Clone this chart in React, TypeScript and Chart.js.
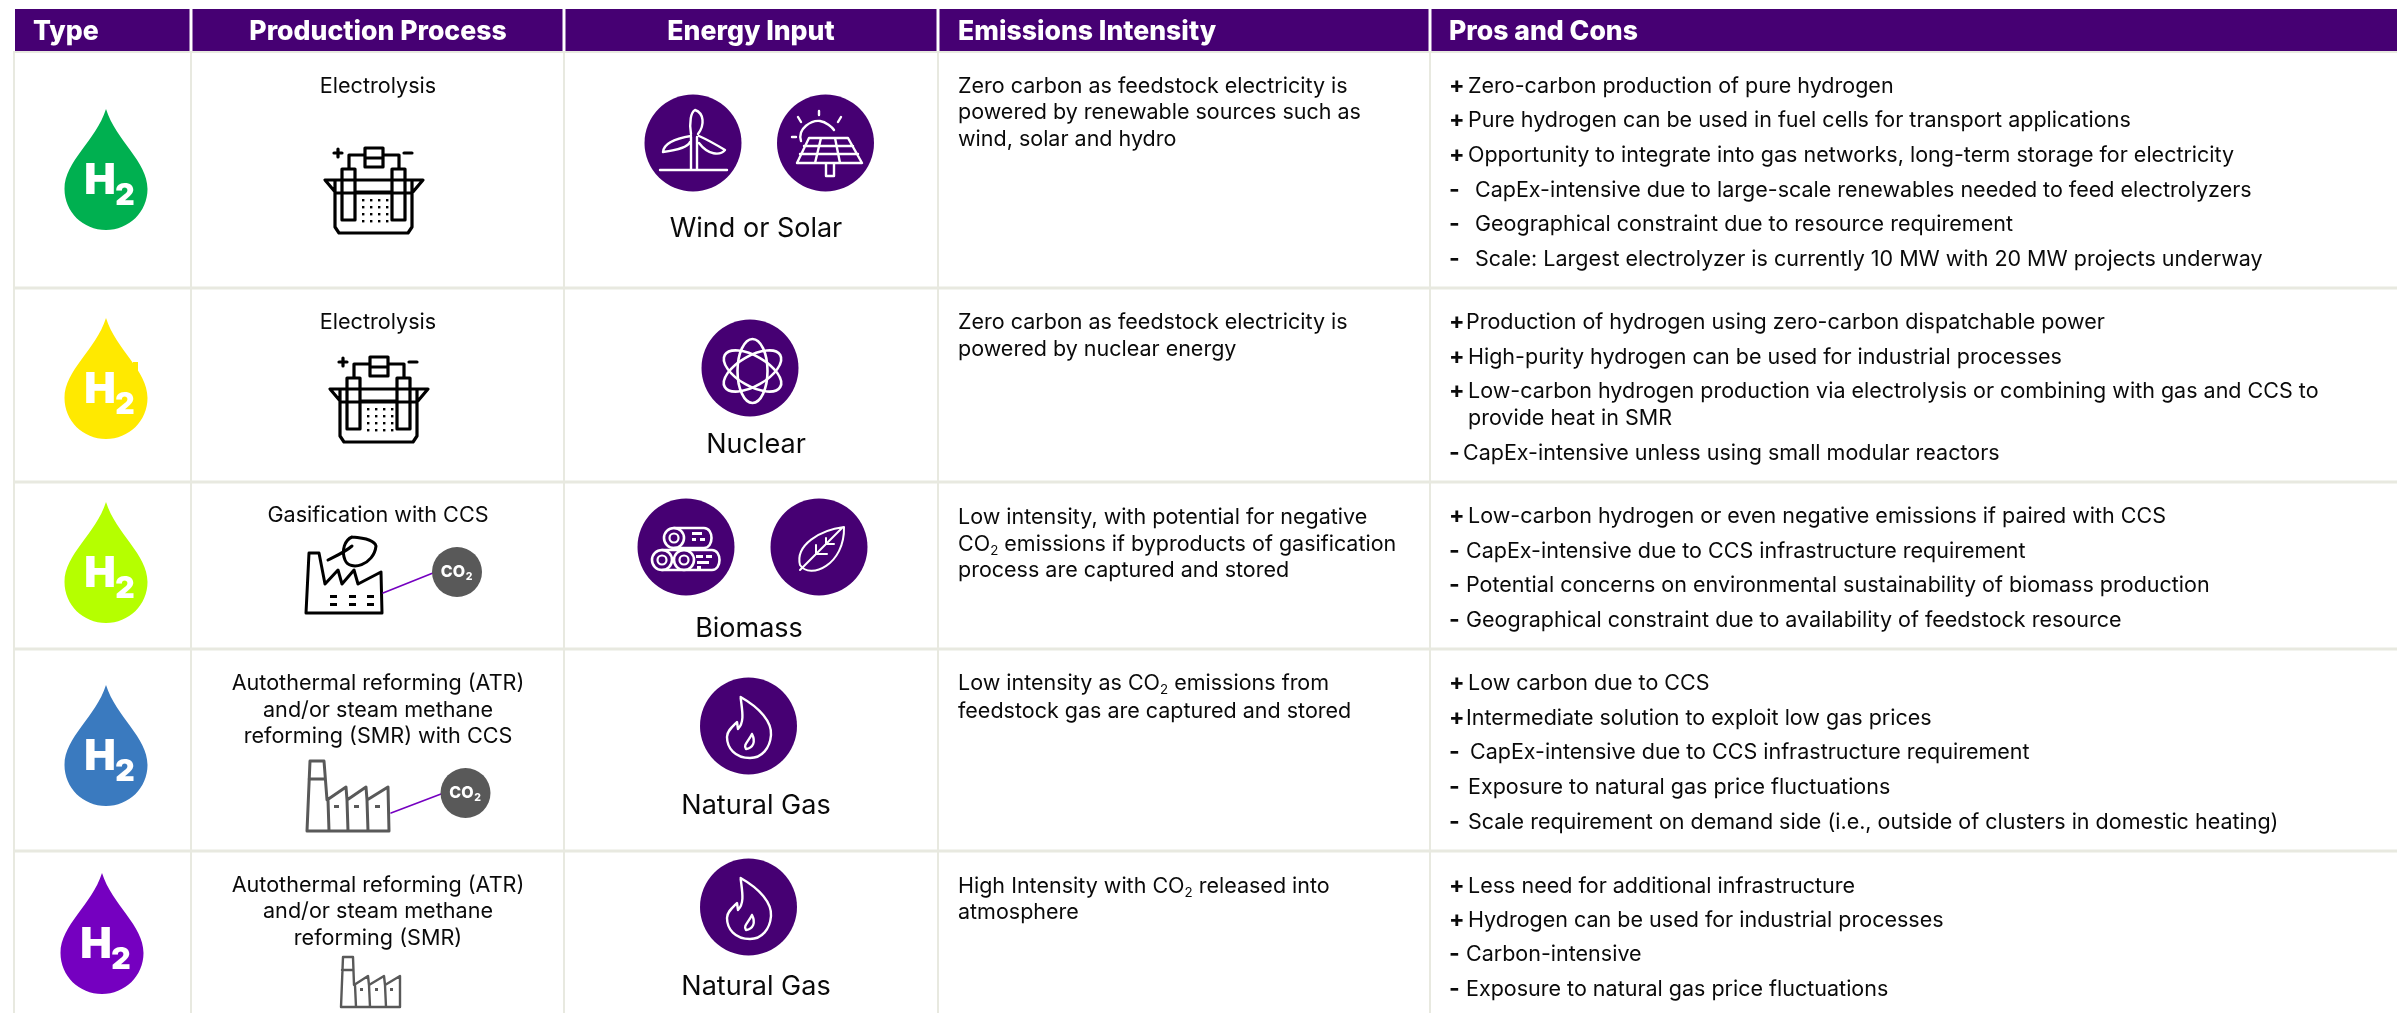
import React, { useEffect, useRef } from "react";
import { Chart, registerables } from "chart.js";

Chart.register(...registerables);

const headers = ["Type", "Production Process", "Energy Input", "Emissions Intensity", "Pros and Cons"];
const dropColors = ["#00b050", "#ffe900", "#b5ff00", "#3a7abf", "#7500c0"];
const processLabels = [
  ["Electrolysis"],
  ["Electrolysis"],
  ["Gasification with CCS"],
  ["Autothermal reforming (ATR)", "and/or steam methane", "reforming (SMR) with CCS"],
  ["Autothermal reforming (ATR)", "and/or steam methane", "reforming (SMR)"],
];
const energyLabels = ["Wind or Solar", "Nuclear", "Biomass", "Natural Gas", "Natural Gas"];
const emissionsText = [
  ["Zero carbon as feedstock electricity is", "powered by renewable sources such as", "wind, solar and hydro"],
  ["Zero carbon as feedstock electricity is", "powered by nuclear energy"],
  ["Low intensity, with potential for negative", "CO₂ emissions if byproducts of gasification", "process are captured and stored"],
  ["Low intensity as CO₂ emissions from", "feedstock gas are captured and stored"],
  ["High Intensity with CO₂ released into", "atmosphere"],
];
const prosCons = [
  ["+Zero-carbon production of pure hydrogen", "+Pure hydrogen can be used in fuel cells for transport applications", "+Opportunity to integrate into gas networks, long-term storage for electricity", "-CapEx-intensive due to large-scale renewables needed to feed electrolyzers", "-Geographical constraint due to resource requirement", "-Scale: Largest electrolyzer is currently 10 MW with 20 MW projects underway"],
  ["+Production of hydrogen using zero-carbon dispatchable power", "+High-purity hydrogen can be used for industrial processes", "+Low-carbon hydrogen production via electrolysis or combining with gas and CCS to", " provide heat in SMR", "-CapEx-intensive unless using small modular reactors"],
  ["+Low-carbon hydrogen or even negative emissions if paired with CCS", "-CapEx-intensive due to CCS infrastructure requirement", "-Potential concerns on environmental sustainability of biomass production", "-Geographical constraint due to availability of feedstock resource"],
  ["+Low carbon due to CCS", "+Intermediate solution to exploit low gas prices", "-CapEx-intensive due to CCS infrastructure requirement", "-Exposure to natural gas price fluctuations", "-Scale requirement on demand side (i.e., outside of clusters in domestic heating)"],
  ["+Less need for additional infrastructure", "+Hydrogen can be used for industrial processes", "-Carbon-intensive", "-Exposure to natural gas price fluctuations"],
];

// layout (scale units = reference pixels)
const W = 2397, H = 1013;
const colEdges = [191, 564, 938, 1430];
const rowEdges = [288, 482, 649, 851];
const prosY = [[85, 119, 154, 189, 223, 258], [321, 356, 390, 417, 452], [515, 550, 584, 619], [682, 717, 751, 786, 821], [885, 919, 953, 988]];
const prosX = [[1468, 1468, 1468, 1475, 1475, 1475], [1466, 1468, 1468, 1468, 1463], [1468, 1466, 1466, 1466], [1468, 1466, 1470, 1468, 1468], [1468, 1468, 1466, 1466]];
const emisY = [[85, 111, 138], [321, 348], [516, 543, 569], [682, 710], [885, 911]];
const procY = [[85], [321], [514], [682, 709, 735], [884, 910, 937]];
const energyX = [756, 756, 749, 756, 756];
const energyY = [227, 443, 627, 804, 985];
const dropX = [106, 106, 106, 106, 102];
const dropTop = [109, 318, 502, 685, 873];

const PURPLE = "#460073";
const GRID = "#e8e9e0";
const FONT = "Inter, 'Noto Sans', sans-serif";
const TEXT_DY = 1.5;
const BODY = 21.5;

function drawScene(chart: any) {
  const c: CanvasRenderingContext2D = chart.ctx;
  const sx = chart.scales.x, sy = chart.scales.y;
  const X = (v: number) => sx.getPixelForValue(v);
  const Y = (v: number) => sy.getPixelForValue(v);
  const rect = (x0: number, y0: number, x1: number, y1: number, col: string) => {
    c.fillStyle = col;
    c.fillRect(X(x0), Y(y0), X(x1) - X(x0), Y(y1) - Y(y0));
  };
  const text = (s: string, x: number, y: number, size: number, col: string, align: CanvasTextAlign = "left", weight = "400") => {
    c.fillStyle = col;
    c.textBaseline = "middle";
    const parts = s.split("₂");
    const measure = () => {
      let w = 0;
      parts.forEach((p, i) => {
        c.font = `${weight} ${size}px ${FONT}`;
        w += c.measureText(p).width;
        if (i < parts.length - 1) { c.font = `${weight} ${size * 0.62}px ${FONT}`; w += c.measureText("2").width; }
      });
      return w;
    };
    let px = X(x);
    if (align === "center") px -= measure() / 2;
    c.textAlign = "left";
    parts.forEach((p, i) => {
      c.font = `${weight} ${size}px ${FONT}`;
      c.fillText(p, px, Y(y));
      px += c.measureText(p).width;
      if (i < parts.length - 1) {
        c.font = `${weight} ${size * 0.62}px ${FONT}`;
        c.fillText("2", px, Y(y) + size * 0.32);
        px += c.measureText("2").width;
      }
    });
  };
  const stroke = (col: string, lw: number, fn: () => void, fill?: string) => {
    c.beginPath();
    fn();
    if (fill) { c.fillStyle = fill; c.fill(); }
    c.strokeStyle = col;
    c.lineWidth = lw;
    c.lineJoin = "round";
    c.lineCap = "round";
    c.stroke();
  };
  const mv = (x: number, y: number) => c.moveTo(X(x), Y(y));
  const ln = (x: number, y: number) => c.lineTo(X(x), Y(y));
  const bz = (a: number, b: number, d: number, e: number, f: number, g: number) => c.bezierCurveTo(X(a), Y(b), X(d), Y(e), X(f), Y(g));
  const poly = (pts: number[][], close = false) => {
    pts.forEach((p, i) => (i ? ln(p[0], p[1]) : mv(p[0], p[1])));
    if (close) c.closePath();
  };
  const disc = (x: number, y: number, r: number, col: string) => {
    c.beginPath();
    c.arc(X(x), Y(y), r, 0, Math.PI * 2);
    c.fillStyle = col;
    c.fill();
  };
  const ring = (x: number, y: number, r: number, col: string, lw: number) => {
    c.beginPath();
    c.arc(X(x), Y(y), r, 0, Math.PI * 2);
    c.strokeStyle = col;
    c.lineWidth = lw;
    c.stroke();
  };

  // background
  rect(0, 0, W, H, "#ffffff");

  // grid
  rect(13, 51, 15, H, GRID);
  colEdges.forEach((e) => rect(e - 1, 51, e + 1, H, GRID));
  rowEdges.forEach((e) => rect(13, e - 1.5, W, e + 1.5, GRID));
  rect(13, 51, W, 53, GRID);

  // header
  const headEdges = [15, ...colEdges, W];
  headers.forEach((h, i) => {
    const a = headEdges[i] + (i ? 1.5 : 0), b = headEdges[i + 1] - (i < 4 ? 1.5 : 0);
    rect(a, 9, b, 51, PURPLE);
    const hx = [33, 378, 751, 958, 1449][i];
    text(h, hx, 32, 26.6, "#ffffff", i === 1 || i === 2 ? "center" : "left", "800");
  });

  // drops
  dropColors.forEach((col, i) => {
    const x = dropX[i], t = dropTop[i], b = t + 121, r = 41.5;
    c.beginPath();
    mv(x, t);
    bz(x + 10, t + 32, x + r, t + 52, x + r, b - 41);
    bz(x + r, b - 18, x + r * 0.55, b, x, b);
    bz(x - r * 0.55, b, x - r, b - 18, x - r, b - 41);
    bz(x - r, t + 52, x - 10, t + 32, x, t);
    c.closePath();
    c.fillStyle = col;
    c.fill();
    if (i === 1) rect(x + 27, t + 44, x + 32, t + 60, col);
    text("H", x - 6, t + 72, 42, "#ffffff", "center", "900");
    text("2", x + 19, t + 87, 30, "#ffffff", "center", "900");
  });

  // process text
  processLabels.forEach((lines, i) => lines.forEach((s, j) => text(s, 378, procY[i][j] + TEXT_DY, 21.6, "#0a0a0a", "center")));
  // energy labels
  energyLabels.forEach((s, i) => text(s, energyX[i], energyY[i] + TEXT_DY, 27, "#0a0a0a", "center"));
  // emissions text
  emissionsText.forEach((lines, i) => lines.forEach((s, j) => text(s, 958, emisY[i][j] + TEXT_DY, BODY, "#0a0a0a")));
  // pros and cons
  prosCons.forEach((lines, i) => lines.forEach((s, j) => {
    const mark = s[0];
    const body = s.slice(1).trim();
    const y = prosY[i][j] + TEXT_DY;
    if (mark === "+") text("+", 1449, y, 23, "#0a0a0a", "left", "700");
    if (mark === "-") text("-", 1449, y, 23, "#0a0a0a", "left", "700");
    text(body, prosX[i][j], y, BODY, "#0a0a0a");
  }));

  // electrolysis icons
  [[325, 147], [330, 356]].forEach(([ox, oy]) => {
    const p = (pts: number[][], close = false) => poly(pts.map((q) => [ox + q[0], oy + q[1]]), close);
    const K = "#000000";
    stroke(K, 3.2, () => {
      p([[0, 33], [98, 33], [87, 46], [11, 46]], true);
      p([[10, 33], [10, 80], [14, 86], [83, 86], [87, 80], [87, 33]]);
      p([[17, 22], [30, 22], [30, 73], [17, 73]], true);
      p([[67, 22], [80, 22], [80, 73], [67, 73]], true);
      p([[24, 22], [24, 8], [40, 8]]);
      p([[58, 8], [74, 8], [74, 22]]);
      p([[40, 1], [58, 1], [58, 20], [40, 20]], true);
      p([[40, 11], [58, 11]]);
      p([[30, 45], [67, 45]]);
      p([[9, 6], [17, 6]]);
      p([[13, 2], [13, 10]]);
      p([[79, 6], [87, 6]]);
    });
    c.fillStyle = K;
    for (let a = 0; a < 4; a++) for (let b = 0; b < 4; b++) {
      c.fillRect(X(ox + 37 + a * 8), Y(oy + 52 + b * 7), 2.4, 2.4);
    }
  });

  // factories
  const co2 = (x: number, y: number) => {
    disc(x, y, 25, "#595959");
    text("CO", x - 4, y, 16, "#ffffff", "center", "800");
    text("2", x + 12, y + 5, 10.5, "#ffffff", "center", "800");
  };
  const lineP = (a: number[], b: number[]) => stroke("#7500c0", 1.6, () => poly([a, b]));
  // row 3
  stroke("#000000", 3, () => {
    poly([[306, 613], [309, 553], [319, 553], [325, 584], [338, 570], [342, 584], [354, 570], [358, 584], [381, 572], [382, 613]], true);
    mv(328, 560); bz(338, 555, 345, 552, 352, 546);
    mv(352, 537); bz(368, 538, 375, 542, 376, 546);
    bz(374, 565, 350, 572, 345, 560);
    bz(341, 550, 345, 540, 352, 537);
  });
  c.fillStyle = "#000000";
  [330, 349, 367].forEach((x) => [595, 603].forEach((y) => c.fillRect(X(x), Y(y), 7, 3)));
  lineP([383, 593], [433, 573]);
  co2(457, 572);
  // row 4
  stroke("#595959", 3, () => {
    poly([[307, 831], [310, 761], [324, 761], [327, 800], [346, 787], [347, 800], [366, 787], [367, 800], [388, 787], [389, 831]], true);
    poly([[309, 779], [325, 779]]);
    poly([[328, 800], [329, 831]]);
    poly([[347, 800], [348, 831]]);
    poly([[367, 800], [368, 831]]);
  });
  c.fillStyle = "#595959";
  [334, 354, 375].forEach((x) => c.fillRect(X(x), Y(805), 5, 3));
  lineP([391, 813], [441, 794]);
  co2(465.5, 793);
  // row 5
  stroke("#595959", 2.4, () => {
    poly([[341, 1007], [343, 957], [353, 957], [354, 985], [368, 976], [369, 985], [384, 976], [385, 985], [400, 976], [400, 1007]], true);
    poly([[342, 970], [353, 970]]);
    poly([[355, 985], [356, 1007]]);
    poly([[369, 985], [370, 1007]]);
    poly([[385, 985], [386, 1007]]);
  });
  c.fillStyle = "#595959";
  [360, 375, 390].forEach((x) => c.fillRect(X(x), Y(988), 3, 3));

  // energy circles
  const R = 48.5;
  const WH = "#ffffff";
  // wind
  disc(693, 143, R, PURPLE);
  stroke(WH, 2.4, () => {
    poly([[660, 170], [727, 170]]);
    poly([[691, 170], [691, 137]]);
    poly([[697, 170], [697, 137]]);
    mv(691, 134); bz(689, 122, 691, 112, 695, 110);
    bz(704, 113, 705, 125, 698, 134);
    mv(691, 136); bz(678, 138, 664, 142, 663, 152);
    bz(678, 150, 688, 147, 690, 142);
    mv(699, 136); bz(708, 140, 720, 147, 725, 150);
    bz(720, 156, 708, 155, 699, 143);
  });
  // solar
  disc(825.5, 143, R, PURPLE);
  stroke(WH, 2.4, () => {
    poly([[809, 138], [848, 138], [862, 163], [797, 163]], true);
    poly([[804, 146], [853, 146]]);
    poly([[800, 154], [858, 154]]);
    poly([[821, 138], [815, 163]]);
    poly([[835, 138], [840, 163]]);
    poly([[826, 163], [826, 176], [834, 176], [834, 163]]);
    mv(801, 141); bz(797, 128, 812, 120, 820, 121);
    bz(826, 122, 832, 127, 834, 130);
    poly([[819, 111], [819, 115]]);
    poly([[798, 117], [801, 122]]);
    poly([[841, 117], [838, 122]]);
    poly([[792, 137], [796, 137]]);
  });
  // atom
  disc(750, 368, R, PURPLE);
  [90, 30, -30].forEach((deg) => {
    c.beginPath();
    c.ellipse(X(752.5), Y(371), 32, 15, (deg * Math.PI) / 180, 0, Math.PI * 2);
    c.strokeStyle = WH;
    c.lineWidth = 2.6;
    c.stroke();
  });
  // logs
  disc(686, 547, R, PURPLE);
  const logBody = (x0: number, x1: number, y: number, r: number) => {
    stroke(WH, 2.6, () => {
      mv(x0, y - r); ln(x1, y - r);
      bz(x1 + r, y - r, x1 + r, y + r, x1, y + r);
      ln(x0, y + r);
    });
    ring(x0, y, r, WH, 2.6);
    ring(x0, y, r * 0.45, WH, 2.2);
  };
  logBody(674, 704, 538, 10);
  logBody(662, 712, 560, 10);
  ring(684, 560, 10, WH, 2.6);
  ring(684, 560, 4.5, WH, 2.2);
  c.fillStyle = WH;
  [[692, 532, 10, 3], [692, 538, 4, 3], [700, 538, 5, 3], [696, 555, 7, 3], [706, 555, 6, 3], [697, 561, 12, 3], [697, 566, 4, 3]].forEach((q) => c.fillRect(X(q[0]), Y(q[1]), q[2], q[3]));
  // leaf
  disc(819, 547, R, PURPLE);
  stroke(WH, 2, () => {
    mv(800, 570); ln(842, 528);
    mv(844, 527); bz(820, 530, 795, 545, 800, 565);
    bz(810, 580, 845, 565, 844, 527);
    mv(816, 554); ln(816, 545);
    mv(816, 554); ln(827, 554);
    mv(826, 544); ln(826, 538);
    mv(826, 544); ln(834, 544);
  });
  // flames
  [[748.5, 726], [748.5, 907]].forEach(([cx, cy]) => {
    disc(cx, cy, R, PURPLE);
    const dy = cy - 726;
    stroke(WH, 2.4, () => {
      mv(740.6, 697 + dy);
      bz(760, 708 + dy, 772, 722 + dy, 771, 735 + dy);
      bz(770, 748 + dy, 762, 758 + dy, 750, 758 + dy);
      bz(735, 758 + dy, 727, 748 + dy, 727, 737 + dy);
      bz(727, 731 + dy, 732, 727 + dy, 737, 722 + dy);
      ln(738, 729 + dy);
      bz(745, 722 + dy, 742, 710 + dy, 740.6, 697 + dy);
      mv(752, 734 + dy);
      bz(756, 742 + dy, 753, 748 + dy, 746, 749 + dy);
      bz(743, 745 + dy, 748, 742 + dy, 752, 734 + dy);
    });
  });
}

export default function App() {
  const ref = useRef<HTMLCanvasElement>(null);
  useEffect(() => {
    const chart = new Chart(ref.current as HTMLCanvasElement, {
      type: "scatter",
      data: { datasets: [{ data: [], pointRadius: 0 }] },
      options: {
        animation: false,
        responsive: false,
        devicePixelRatio: 1,
        layout: { padding: 0 },
        plugins: { legend: { display: false }, tooltip: { enabled: false } },
        scales: {
          x: { type: "linear", display: false, min: 0, max: W },
          y: { type: "linear", display: false, min: 0, max: H, reverse: true },
        },
      },
      plugins: [{ id: "scene", beforeDatasetsDraw: drawScene }],
    } as any);
    return () => chart.destroy();
  }, []);
  return <canvas ref={ref} width={W} height={H} style={{ position: "fixed", left: 0, top: 0, display: "block" }} />;
}
